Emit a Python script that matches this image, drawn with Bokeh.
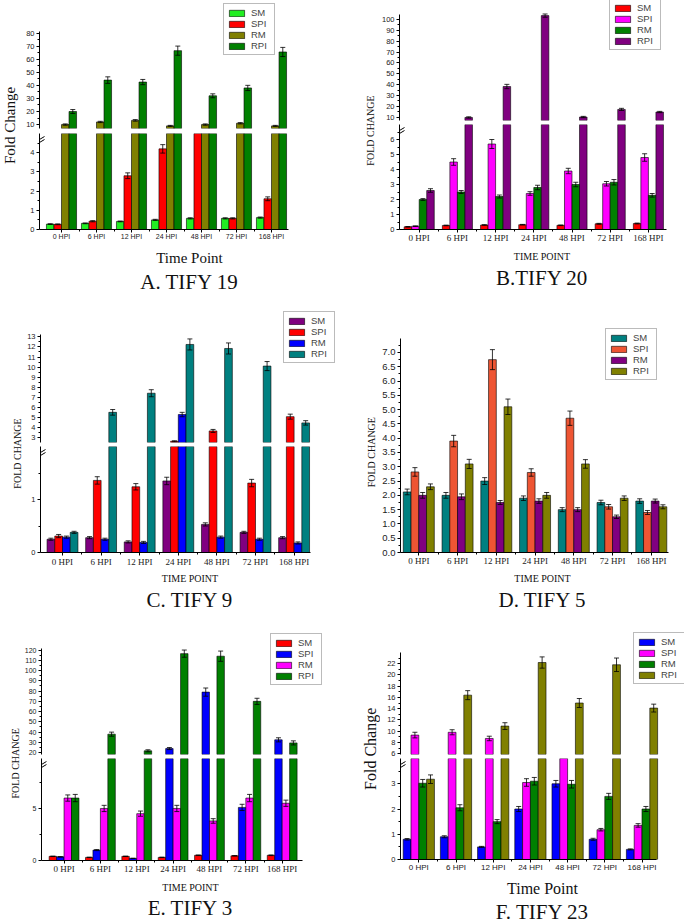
import math
from bokeh.plotting import figure
from bokeh.layouts import row, column
from bokeh.models import (Range1d, FixedTicker, Legend, LegendItem, Label, Arrow,
                          Title, PrintfTickFormatter, ColumnDataSource)
from bokeh.embed import file_html
from bokeh.resources import INLINE

# ---------------- data ----------------
hpi = ["0 HPI", "6 HPI", "12 HPI", "24 HPI", "48 HPI", "72 HPI", "168 HPI"]
series = ["SM", "SPI", "RM", "RPI"]

# A. TIFY 19
a_sm = [0.28, 0.32, 0.42, 0.50, 0.58, 0.58, 0.62]
a_spi = [0.27, 0.43, 2.80, 4.20, 6.00, 0.58, 1.60]
a_rm = [10.0, 12.0, 13.2, 9.0, 10.0, 11.0, 9.0]
a_rpi = [20.0, 44.0, 42.5, 66.5, 32.0, 38.0, 65.5]
a_sm_err = [0.02, 0.02, 0.02, 0.03, 0.03, 0.03, 0.03]
a_spi_err = [0.02, 0.03, 0.15, 0.22, 0.0, 0.03, 0.10]
a_rm_err = [0.5, 0.5, 0.6, 0.4, 0.5, 0.5, 0.4]
a_rpi_err = [1.5, 2.5, 2.0, 3.5, 1.5, 2.0, 3.5]
a_ticks_up = [10, 20, 30, 40, 50, 60, 70, 80]
a_minor_up = [15, 25, 35, 45, 55, 65, 75]
a_ticks_low = [0, 1, 2, 3, 4]
a_minor_low = [0.5, 1.5, 2.5, 3.5, 4.5]

# B. TIFY 20
b_sm = [0.18, 0.27, 0.30, 0.32, 0.28, 0.38, 0.40]
b_spi = [0.22, 4.50, 5.70, 2.40, 3.90, 3.05, 4.80]
b_rm = [2.00, 2.50, 2.20, 2.80, 3.00, 3.15, 2.28]
b_rpi = [2.60, 9.8, 38.3, 103.6, 10.2, 17.2, 14.8]
b_sm_err = [0.02, 0.02, 0.02, 0.02, 0.02, 0.03, 0.03]
b_spi_err = [0.02, 0.22, 0.30, 0.12, 0.18, 0.15, 0.25]
b_rm_err = [0.06, 0.10, 0.10, 0.15, 0.15, 0.18, 0.12]
b_rpi_err = [0.12, 0.6, 2.0, 1.5, 0.6, 1.0, 0.6]
b_ticks_up = [10, 20, 30, 40, 50, 60, 70, 80, 90, 100]
b_minor_up = [15, 25, 35, 45, 55, 65, 75, 85, 95]
b_ticks_low = [0, 1, 2, 3, 4, 5, 6]
b_minor_low = [0.5, 1.5, 2.5, 3.5, 4.5, 5.5, 6.5]

# C. TIFY 9
c_sm = [0.25, 0.28, 0.20, 1.35, 0.53, 0.38, 0.28]
c_spi = [0.31, 1.36, 1.24, 2.62, 3.65, 1.31, 5.07]
c_rm = [0.29, 0.25, 0.19, 5.28, 0.29, 0.25, 0.18]
c_rpi = [0.38, 5.50, 7.40, 12.25, 11.85, 10.10, 4.45]
c_sm_err = [0.02, 0.02, 0.02, 0.07, 0.03, 0.02, 0.02]
c_spi_err = [0.03, 0.07, 0.06, 0.05, 0.15, 0.07, 0.25]
c_rm_err = [0.02, 0.02, 0.02, 0.22, 0.02, 0.02, 0.02]
c_rpi_err = [0.02, 0.28, 0.35, 0.55, 0.55, 0.45, 0.22]
c_ticks_up = [3, 4, 5, 6, 7, 8, 9, 10, 11, 12, 13]
c_minor_up = [3.5, 4.5, 5.5, 6.5, 7.5, 8.5, 9.5, 10.5, 11.5, 12.5]
c_ticks_low = [0, 1]
c_minor_low = [0.5, 1.5]

# D. TIFY 5
d_sm = [2.12, 2.00, 2.50, 1.90, 1.50, 1.75, 1.80]
d_spi = [2.82, 3.90, 6.75, 2.80, 4.70, 1.60, 1.40]
d_rm = [2.00, 1.95, 1.75, 1.80, 1.50, 1.25, 1.80]
d_rpi = [2.30, 3.10, 5.10, 2.00, 3.10, 1.90, 1.60]
d_sm_err = [0.10, 0.10, 0.12, 0.08, 0.07, 0.08, 0.08]
d_spi_err = [0.15, 0.20, 0.35, 0.13, 0.25, 0.08, 0.07]
d_rm_err = [0.10, 0.10, 0.07, 0.08, 0.07, 0.06, 0.07]
d_rpi_err = [0.10, 0.16, 0.27, 0.10, 0.15, 0.08, 0.07]
d_ticks = [0.0, 0.5, 1.0, 1.5, 2.0, 2.5, 3.0, 3.5, 4.0, 4.5, 5.0, 5.5, 6.0, 6.5, 7.0]
d_minor = [0.25, 0.75, 1.25, 1.75, 2.25, 2.75, 3.25, 3.75, 4.25, 4.75, 5.25, 5.75,
           6.25, 6.75, 7.25]

# E. TIFY 3
e_sm = [0.40, 0.30, 0.40, 0.30, 0.50, 0.45, 0.50]
e_spi = [0.35, 1.00, 0.20, 24.0, 79.0, 5.10, 32.5]
e_rm = [6.00, 5.00, 4.50, 5.00, 3.80, 6.00, 5.50]
e_rpi = [6.00, 38.0, 21.8, 116.5, 114.0, 70.0, 29.5]
e_sm_err = [0.02, 0.02, 0.02, 0.02, 0.03, 0.02, 0.03]
e_spi_err = [0.02, 0.05, 0.02, 1.0, 4.0, 0.3, 2.0]
e_rm_err = [0.30, 0.30, 0.25, 0.30, 0.22, 0.35, 0.30]
e_rpi_err = [0.35, 2.0, 1.0, 3.5, 5.0, 3.0, 2.0]
e_ticks_up = [20, 30, 40, 50, 60, 70, 80, 90, 100, 110, 120]
e_minor_up = [25, 35, 45, 55, 65, 75, 85, 95, 105, 115]
e_ticks_low = [0, 5]
e_minor_low = [2.5, 7.5]

# F. TIFY 23
f_sm = [0.80, 0.90, 0.50, 2.00, 3.00, 0.80, 0.40]
f_spi = [9.30, 9.80, 8.70, 3.05, 5.00, 1.18, 1.35]
f_rm = [3.02, 2.05, 1.50, 3.10, 2.98, 2.50, 2.00]
f_rpi = [3.18, 16.4, 10.9, 22.2, 15.0, 21.8, 14.1]
f_sm_err = [0.03, 0.04, 0.02, 0.10, 0.13, 0.04, 0.02]
f_spi_err = [0.50, 0.45, 0.40, 0.15, 0.0, 0.05, 0.07]
f_rm_err = [0.15, 0.12, 0.08, 0.15, 0.15, 0.12, 0.10]
f_rpi_err = [0.17, 0.80, 0.60, 1.00, 0.80, 1.20, 0.70]
f_ticks_up = [6, 8, 10, 12, 14, 16, 18, 20, 22]
f_minor_up = [7, 9, 11, 13, 15, 17, 19, 21, 23]
f_ticks_low = [0, 1, 2, 3]
f_minor_low = [0.5, 1.5, 2.5, 3.5]

SANS = "Liberation Sans"
SERIF = "Liberation Serif"
LEG_H = 48

panels = [
    dict(title="A. TIFY 19", ylabel="Fold Change", xlabel="Time Point",
         vals=[a_sm, a_spi, a_rm, a_rpi], errs=[a_sm_err, a_spi_err, a_rm_err, a_rpi_err],
         colors=["#22ee22", "#ff0000", "#808000", "#008000"],
         ticks_up=a_ticks_up, minor_up=a_minor_up, ticks_low=a_ticks_low, minor_low=a_minor_low,
         px=(0, 340), rows=(0, 300), lw=22, lab=(9, 125, 15),
         fx=(39, 288), c0=61, sp=35, bw=0.215,
         up=(7, 128.2, 81, 31.4), low=(5, 132.7, 229.3), legend=(223, 7),
         ytick_fs=7.5, xtick=(SANS, 7), xl_fs=15, t_fs=21, offs=(9, 30, 53), fmt=None),
    dict(title="B.TIFY 20", ylabel="FOLD CHANGE", xlabel="TIME POINT",
         vals=[b_sm, b_spi, b_rm, b_rpi], errs=[b_sm_err, b_spi_err, b_rm_err, b_rpi_err],
         colors=["#ff0000", "#ff00ff", "#008000", "#800080"],
         ticks_up=b_ticks_up, minor_up=b_minor_up, ticks_low=b_ticks_low, minor_low=b_minor_low,
         px=(340, 685), rows=(0, 300), lw=36, lab=(370, 130, 10),
         fx=(399, 666), c0=418.7, sp=38.2, bw=0.197,
         up=(7, 120, 105, 13.6), low=(7, 123.6, 229.3), legend=(609, 2),
         ytick_fs=7.5, xtick=(SERIF, 9), xl_fs=10, t_fs=21, offs=(10, 27, 48), fmt=None),
    dict(title="C. TIFY 9", ylabel="FOLD CHANGE", xlabel="TIME POINT",
         vals=[c_sm, c_spi, c_rm, c_rpi], errs=[c_sm_err, c_spi_err, c_rm_err, c_rpi_err],
         colors=["#800080", "#ff0000", "#0000ff", "#008080"],
         ticks_up=c_ticks_up, minor_up=c_minor_up, ticks_low=c_ticks_low, minor_low=c_minor_low,
         px=(0, 340), rows=(300, 610), lw=23, lab=(17, 453, 10),
         fx=(40, 309.5), c0=62, sp=38.6, bw=0.2,
         up=(2.5, 442.3, 13.2, 334.7), low=(2, 446.3, 552.3), legend=(283, 315),
         ytick_fs=7.5, xtick=(SERIF, 9), xl_fs=10, t_fs=21, offs=(11, 26, 46), fmt=None),
    dict(title="D. TIFY 5", ylabel="FOLD CHANGE", xlabel="TIME POINT",
         vals=[d_sm, d_spi, d_rm, d_rpi], errs=[d_sm_err, d_spi_err, d_rm_err, d_rpi_err],
         colors=["#008080", "#ee5533", "#800080", "#808000"],
         ticks_up=None, minor_up=None, ticks_low=d_ticks, minor_low=d_minor,
         px=(340, 685), rows=(300, 610), lw=37, lab=(371, 451.7, 10),
         fx=(400, 668), c0=418.3, sp=38.75, bw=0.2,
         up=None, low=(7.5, 338, 552.3), legend=(605, 332),
         ytick_fs=9.5, xtick=(SERIF, 9), xl_fs=10, t_fs=21, offs=(10, 26, 46), fmt="%.1f"),
    dict(title="E. TIFY 3", ylabel="FOLD CHANGE", xlabel="TIME POINT",
         vals=[e_sm, e_spi, e_rm, e_rpi], errs=[e_sm_err, e_spi_err, e_rm_err, e_rpi_err],
         colors=["#ff0000", "#0000ff", "#ff00ff", "#008000"],
         ticks_up=e_ticks_up, minor_up=e_minor_up, ticks_low=e_ticks_low, minor_low=e_minor_low,
         px=(0, 340), rows=(610, 923), lw=21, lab=(15, 762.8, 10),
         fx=(39, 302), c0=61.7, sp=36.6, bw=0.205,
         up=(18.2, 754.5, 121.5, 648.5), low=(9.8, 758.5, 860), legend=(268, 637),
         ytick_fs=7, xtick=(SERIF, 9), xl_fs=10, t_fs=21, offs=(9, 26, 45), fmt=None),
    dict(title="F. TIFY 23", ylabel="Fold Change", xlabel="Time Point",
         vals=[f_sm, f_spi, f_rm, f_rpi], errs=[f_sm_err, f_spi_err, f_rm_err, f_rpi_err],
         colors=["#0000ff", "#ff00ff", "#008000", "#808000"],
         ticks_up=f_ticks_up, minor_up=f_minor_up, ticks_low=f_ticks_low, minor_low=f_minor_low,
         px=(340, 685), rows=(610, 923), lw=40, lab=(370, 748.3, 16),
         fx=(400, 656), c0=418.3, sp=37.2, bw=0.21,
         up=(5.85, 754.2, 24, 652.1), low=(4, 758.3, 859.3), legend=(633, 636),
         ytick_fs=7.5, xtick=(SANS, 8), xl_fs=16, t_fs=21, offs=(10, 30, 52), fmt=None),
]


def make_fig(width, height, xr, yr, bl, br, bt, bb, xaxis=True):
    p = figure(width=width, height=height, x_range=xr, y_range=yr,
               output_backend="svg", toolbar_location=None,
               x_axis_location="below" if xaxis else None,
               min_border_left=bl, min_border_right=br,
               min_border_top=bt, min_border_bottom=bb,
               outline_line_color=None, background_fill_color="white",
               border_fill_color="white")
    p.grid.visible = False
    return p


def style_y(p, ticks, minor, fs, fmt, bounds=None):
    ax = p.yaxis[0]
    ax.ticker = FixedTicker(ticks=ticks, minor_ticks=minor)
    ax.axis_line_color = "black"
    ax.axis_line_width = 1
    ax.major_tick_out = 3
    ax.major_tick_in = 0
    ax.minor_tick_out = 2
    ax.minor_tick_in = 0
    ax.major_tick_line_color = "black"
    ax.minor_tick_line_color = "black"
    ax.major_label_text_font = SANS
    ax.major_label_text_font_size = f"{fs}px"
    ax.major_label_text_color = "#222222"
    ax.major_label_standoff = 2
    if fmt:
        ax.formatter = PrintfTickFormatter(format=fmt)
    if bounds:
        ax.bounds = bounds


def draw_bars(p, P, lo_lim, hi_lim):
    """Draw the bars and error bars that are visible between lo_lim and hi_lim."""
    w = P["bw"]
    cap = 2.5 / P["sp"]
    nan = float("nan")
    rends = []
    for i, (vals, errs, col) in enumerate(zip(P["vals"], P["errs"], P["colors"])):
        xs = [j + (i - 1.5) * w for j in range(len(hpi))]
        tops = [v if v > lo_lim else nan for v in vals]
        src = ColumnDataSource(dict(x=xs, top=tops))
        r = p.vbar(x="x", top="top", width=w, bottom=0, source=src,
                   fill_color=col, line_color="black", line_width=0.6)
        rends.append(r)
        keep = [(x, v, e) for x, v, e in zip(xs, vals, errs)
                if e > 0 and v + e > lo_lim and v - e < hi_lim]
        ex = [k[0] for k in keep]
        hi = [k[1] + k[2] for k in keep]
        lo = [k[1] - k[2] for k in keep]
        esrc = ColumnDataSource(dict(x=ex, hi=hi, lo=lo,
                                     xl=[x - cap for x in ex], xr=[x + cap for x in ex]))
        p.segment(x0="x", y0="lo", x1="x", y1="hi", source=esrc, line_color="black", line_width=0.8)
        p.segment(x0="xl", y0="hi", x1="xr", y1="hi", source=esrc, line_color="black", line_width=0.8)
        p.segment(x0="xl", y0="lo", x1="xr", y1="lo", source=esrc, line_color="black", line_width=0.8)
    return rends


def add_legend(p, rends, P, frame_left, frame_bottom, rt):
    lgx, lgt = P["legend"]
    lgt = max(lgt, rt + 1)
    leg = Legend(items=[LegendItem(label=s, renderers=[r]) for s, r in zip(series, rends)],
                 location=(lgx - frame_left, frame_bottom - (lgt + LEG_H)))
    leg.border_line_color = "#777777"
    leg.border_line_width = 1
    leg.background_fill_color = "white"
    leg.background_fill_alpha = 1
    leg.padding = 3
    leg.spacing = 0
    leg.margin = 0
    leg.glyph_width = 19
    leg.glyph_height = 8
    leg.label_height = 10
    leg.label_standoff = 5
    leg.label_text_font = SANS
    leg.label_text_font_size = "9.5px"
    p.add_layout(leg)


def build(P):
    px0, px1 = P["px"]
    rt, rb = P["rows"]
    lw = P["lw"]
    lx, rx = P["fx"]
    sp = P["sp"]
    c0 = P["c0"]
    c6 = c0 + 6 * sp
    fr = px1 - 1                      # frame right edge (room for legend)
    x_lo = -(c0 - lx) / sp
    x_axis_hi = 6 + (rx - c6) / sp
    x_hi = 6 + (fr - c6) / sp
    mw = px1 - px0 - lw
    bl = int(round(lx - px0 - lw))
    br = int(round(px1 - fr))
    xr = Range1d(x_lo, x_hi)

    # y label strip
    H = rb - rt
    lf = figure(width=lw, height=H, x_range=Range1d(0, lw), y_range=Range1d(0, H),
                min_border=0, toolbar_location=None, output_backend="svg",
                x_axis_location=None, y_axis_location=None, outline_line_color=None,
                border_fill_color="white", background_fill_color="white")
    lf.grid.visible = False
    labx, laby, labfs = P["lab"]
    lf.add_layout(Label(x=labx - px0, y=rb - laby, text=P["ylabel"], angle=math.pi / 2,
                        text_align="center", text_baseline="middle", text_font=SERIF,
                        text_font_size=f"{labfs}px", text_color="#111111"))

    l_hi, y_lt, y0 = P["low"]
    y0r = int(round(y0))
    if P["up"] is not None:
        u_lo, y_ub, u_top, y_top = P["up"]
        y_ubr = int(round(y_ub))
        y_ltr = int(round(y_lt))
        s_up = (y_ub - y_top) / (u_top - u_lo)
        u_end = u_lo + (y_ubr - rt) / s_up
        up = make_fig(mw, y_ltr - rt, xr, Range1d(u_lo, u_end), bl, br, 0, y_ltr - y_ubr, xaxis=False)
        style_y(up, P["ticks_up"], P["minor_up"], P["ytick_fs"], P["fmt"], bounds=(u_lo, u_top))
        rends = draw_bars(up, P, u_lo, u_end)
        add_legend(up, rends, P, lx, y_ubr, rt)
        low = make_fig(mw, rb - y_ltr, xr, Range1d(0, l_hi), bl, br, 0, rb - y0r)
        style_y(low, P["ticks_low"], P["minor_low"], P["ytick_fs"], P["fmt"])
        draw_bars(low, P, -1.0, l_hi)
        s_low = (y0r - y_ltr) / l_hi

        def dx(px):
            return x_lo + (px - lx) / sp

        def dy(py):
            return (y0r - py) / s_low
        for k in (0, 3):
            low.add_layout(Arrow(end=None, x_start=dx(lx - 5), y_start=dy(y_ltr + 9 + k),
                                 x_end=dx(lx + 5), y_end=dy(y_ltr + 3 + k),
                                 line_color="black", line_width=1))
        figs = [up, low]
    else:
        top_v, y_top = l_hi, y_lt
        s = (y0 - y_top) / top_v
        end = (y0r - rt) / s
        low = make_fig(mw, rb - rt, xr, Range1d(0, end), bl, br, 0, rb - y0r)
        style_y(low, P["ticks_low"], P["minor_low"], P["ytick_fs"], P["fmt"], bounds=(0, top_v))
        rends = draw_bars(low, P, -1.0, end)
        add_legend(low, rends, P, lx, y0r, rt)
        figs = [low]

    # x axis
    xa = low.xaxis[0]
    xa.bounds = (x_lo, x_axis_hi)
    xa.ticker = FixedTicker(ticks=list(range(len(hpi))),
                            minor_ticks=[k + 0.5 for k in range(len(hpi) - 1)])
    xa.major_label_overrides = {i: h for i, h in enumerate(hpi)}
    xa.axis_line_color = "black"
    xa.major_tick_out = 3
    xa.major_tick_in = 0
    xa.minor_tick_out = 2
    xa.minor_tick_in = 0
    xa.major_tick_line_color = "black"
    xa.minor_tick_line_color = "black"
    ft_font, ft = P["xtick"]
    xa.major_label_text_font = ft_font
    xa.major_label_text_font_size = f"{ft}px"
    xa.major_label_text_color = "#222222"
    t_off, l_off, ti_off = P["offs"]
    fl = P["xl_fs"]
    fT = P["t_fs"]
    xa.major_label_standoff = max(0, int(round(t_off - 5 - 0.575 * ft)))
    xa.axis_label = P["xlabel"]
    xa.axis_label_text_font = SERIF
    xa.axis_label_text_font_style = "normal"
    xa.axis_label_text_font_size = f"{fl}px"
    xa.axis_label_text_color = "#111111"
    xa.axis_label_standoff = max(0, int(round(l_off - t_off - 0.575 * ft - 0.575 * fl - 1)))
    t = Title(text=P["title"], align="center", text_font=SERIF, text_font_size=f"{fT}px",
              text_font_style="normal", text_color="#111111",
              standoff=int(round(ti_off - l_off - 0.575 * (fl + fT) - 4)))
    low.add_layout(t, "below")

    return row(lf, column(*figs, spacing=0), spacing=0)


built = [build(P) for P in panels]
layout = column(row(built[0], built[1], spacing=0),
                row(built[2], built[3], spacing=0),
                row(built[4], built[5], spacing=0), spacing=0)

open("out.html", "w").write(file_html(layout, INLINE))
